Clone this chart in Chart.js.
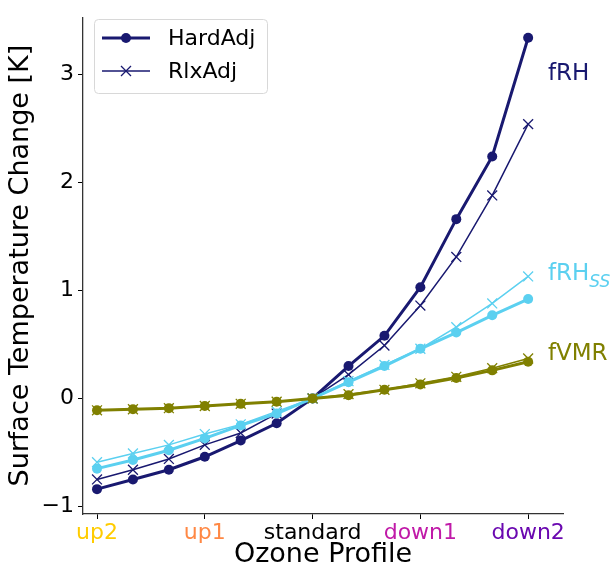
<!DOCTYPE html>
<html>
<head>
<meta charset="utf-8">
<script src="https://cdn.jsdelivr.net/npm/chart.js@4"></script>
<style>
  body { margin: 0; background: #fff; }
  #wrap { width: 612px; height: 568px; }
</style>
</head>
<body>
<div id="wrap"><canvas id="myChart" width="612" height="568"></canvas></div>
<script>
// ozone profile steps, only every third one gets a label
var profileLabels = ["up2", "", "", "up1", "", "", "standard", "", "", "down1", "", "", "down2"];
var labelColors = ["#ffcc00", "", "", "#ff8844", "", "", "#000000", "", "", "#c01aa8", "", "", "#6a08b0"];
var yTicks = [-1, 0, 1, 2, 3];

var fRH_hard = [-0.84, -0.75, -0.66, -0.54, -0.39, -0.23, 0, 0.30, 0.58, 1.03, 1.66, 2.24, 3.34];
var fRH_rlx = [-0.75, -0.66, -0.56, -0.43, -0.32, -0.14, 0, 0.22, 0.49, 0.86, 1.31, 1.88, 2.54];
var fRHss_hard = [-0.65, -0.57, -0.48, -0.37, -0.25, -0.14, 0, 0.15, 0.30, 0.46, 0.61, 0.77, 0.92];
var fRHss_rlx = [-0.59, -0.51, -0.43, -0.33, -0.24, -0.12, 0, 0.16, 0.31, 0.46, 0.66, 0.88, 1.13];
var fVMR_hard = [-0.11, -0.10, -0.09, -0.07, -0.05, -0.03, 0, 0.03, 0.08, 0.13, 0.19, 0.26, 0.34];
var fVMR_rlx = [-0.11, -0.10, -0.09, -0.07, -0.05, -0.03, 0, 0.04, 0.08, 0.14, 0.20, 0.28, 0.37];

var navy = "#191970";
var sky = "#5bd0f0";
var olive = "#808000";

function pts(arr) {
    return arr.map(function (v, i) { return { x: i, y: v }; });
}

function hardSet(name, arr, col, ord) {
    return {
        label: name, data: pts(arr), borderColor: col, backgroundColor: col,
        borderWidth: 3, pointStyle: "circle", pointRadius: 5, pointBorderWidth: 0,
        pointBackgroundColor: col, order: ord
    };
}

function rlxSet(name, arr, col, ord) {
    return {
        label: name, data: pts(arr), borderColor: col, backgroundColor: col,
        borderWidth: 1.5, pointStyle: "cross", pointRotation: 45, pointRadius: 7,
        pointBorderWidth: 1.3, pointBorderColor: col, order: ord
    };
}

var font = "'DejaVu Sans', sans-serif";

// text labels next to the last points, axis titles, legend box
var extras = {
    id: "extras",
    afterDraw: function (chart) {
        var c = chart.ctx;
        var xs = chart.scales.x, ys = chart.scales.y;
        var area = chart.chartArea;
        c.save();
        c.font = "23px " + font;
        c.textBaseline = "middle";
        c.textAlign = "left";
        var lx = xs.getPixelForValue(12.55);
        c.fillStyle = navy;
        c.fillText("fRH", lx, ys.getPixelForValue(3.0));
        c.fillStyle = sky;
        c.fillText("fRH", lx, ys.getPixelForValue(1.15));
        var w = c.measureText("fRH").width;
        c.font = "italic 17px " + font;
        c.fillText("SS", lx + w, ys.getPixelForValue(1.15) + 8);
        c.font = "23px " + font;
        c.fillStyle = olive;
        c.fillText("fVMR", lx, ys.getPixelForValue(0.41));

        // axis titles
        c.fillStyle = "#000";
        c.font = "27px " + font;
        c.textAlign = "center";
        c.fillText("Ozone Profile", (area.left + area.right) / 2, 555);
        c.save();
        c.translate(21, (area.top + area.bottom) / 2);
        c.rotate(-Math.PI / 2);
        c.fillText("Surface Temperature Change [K]", 0, 0);
        c.restore();

        // legend
        c.textAlign = "left";
        var bx = 94, by = 19, bw = 173, bh = 74;
        c.fillStyle = "rgba(255,255,255,0.85)";
        c.strokeStyle = "#d8d8d8";
        c.lineWidth = 1;
        c.beginPath();
        c.roundRect(bx + 0.5, by + 0.5, bw, bh, 4);
        c.fill();
        c.stroke();
        var y1 = by + 19, y2 = by + 52;
        c.strokeStyle = navy;
        c.lineWidth = 3;
        c.beginPath(); c.moveTo(102, y1); c.lineTo(150, y1); c.stroke();
        c.fillStyle = navy;
        c.beginPath(); c.arc(126, y1, 5, 0, Math.PI * 2); c.fill();
        c.lineWidth = 1.5;
        c.beginPath(); c.moveTo(102, y2); c.lineTo(150, y2); c.stroke();
        c.lineWidth = 1.3;
        c.beginPath();
        c.moveTo(121, y2 - 5); c.lineTo(131, y2 + 5);
        c.moveTo(131, y2 - 5); c.lineTo(121, y2 + 5);
        c.stroke();
        c.fillStyle = "#000";
        c.font = "22px " + font;
        c.fillText("HardAdj", 168, y1 + 1);
        c.fillText("RlxAdj", 168, y2 + 1);
        c.restore();
    }
};

var ctx = document.getElementById("myChart").getContext("2d");

var myChart = new Chart(ctx, {
    type: "line",
    data: {
        datasets: [
            hardSet("fRH HardAdj", fRH_hard, navy, 6),
            rlxSet("fRH RlxAdj", fRH_rlx, navy, 5),
            hardSet("fRHss HardAdj", fRHss_hard, sky, 4),
            rlxSet("fRHss RlxAdj", fRHss_rlx, sky, 3),
            hardSet("fVMR HardAdj", fVMR_hard, olive, 2),
            rlxSet("fVMR RlxAdj", fVMR_rlx, olive, 1)
        ]
    },
    options: {
        responsive: false,
        animation: false,
        layout: { padding: { top: 10, right: 49, left: 0, bottom: 0 } },
        plugins: {
            legend: { display: false },
            tooltip: { enabled: false }
        },
        scales: {
            x: {
                type: "linear",
                min: -0.39,
                max: 12.97,
                afterBuildTicks: function (scale) {
                    scale.ticks = [0, 3, 6, 9, 12].map(function (v) { return { value: v }; });
                },
                afterFit: function (scale) { scale.height = 54; },
                ticks: {
                    autoSkip: false,
                    maxRotation: 0,
                    padding: 1,
                    font: { family: font, size: 22 },
                    color: function (c) { return labelColors[c.tick.value]; },
                    callback: function (v) { return profileLabels[v]; }
                },
                grid: { drawOnChartArea: false, tickLength: 5, color: "#000" },
                border: { color: "#333", width: 1.3 }
            },
            y: {
                min: -1.07,
                max: 3.53,
                afterBuildTicks: function (scale) {
                    scale.ticks = yTicks.map(function (v) { return { value: v }; });
                },
                afterFit: function (scale) { scale.width = 83; },
                ticks: {
                    padding: 4,
                    font: { family: font, size: 22 },
                    color: "#000",
                    callback: function (v) { return v < 0 ? "\u2212" + Math.abs(v) : String(v); }
                },
                grid: { drawOnChartArea: false, tickLength: 5, color: "#000" },
                border: { color: "#333", width: 1.3 }
            }
        }
    },
    plugins: [extras]
});
</script>
</body>
</html>
